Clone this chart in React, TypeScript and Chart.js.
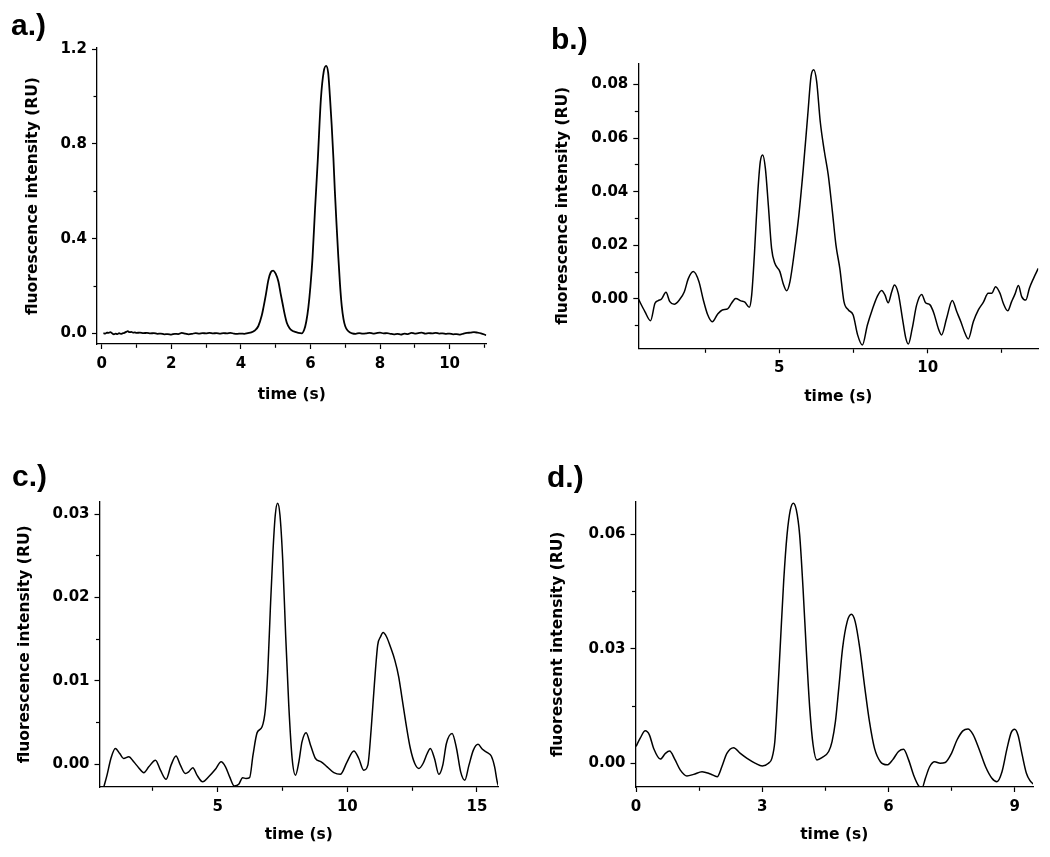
import React, { useEffect, useRef } from 'react';
import { Chart, registerables } from 'chart.js';

Chart.register(...registerables);

// ---------- Panel a ----------
const aTime = [
  0.05, 0.1, 0.15, 0.2, 0.25, 0.3, 0.35, 0.4, 0.45, 0.5,
  0.55, 0.6, 0.65, 0.7, 0.75, 0.8, 0.85, 0.9, 0.95, 1.0,
  1.1, 1.2, 1.3, 1.4, 1.5, 1.6, 1.7, 1.8, 1.9, 2.0,
  2.1, 2.2, 2.3, 2.4, 2.5, 2.6, 2.7, 2.8, 2.9, 3.0,
  3.1, 3.2, 3.3, 3.4, 3.5, 3.6, 3.7, 3.8, 3.9, 4.0,
  4.1, 4.2, 4.3, 4.4, 4.5, 4.6, 4.65, 4.72, 4.79, 4.86,
  4.93, 5.0, 5.08, 5.14, 5.2, 5.26, 5.32, 5.4, 5.48, 5.56,
  5.65, 5.75, 5.82, 5.88, 5.94, 6.0, 6.06, 6.13, 6.21, 6.3,
  6.38, 6.45, 6.51, 6.56, 6.61, 6.66, 6.7, 6.75, 6.8, 6.85,
  6.9, 6.95, 7.0, 7.07, 7.14, 7.2, 7.3, 7.4, 7.5, 7.6,
  7.7, 7.8, 7.9, 8.0, 8.1, 8.2, 8.3, 8.4, 8.5, 8.6,
  8.7, 8.8, 8.9, 9.0, 9.1, 9.2, 9.3, 9.4, 9.5, 9.6,
  9.7, 9.8, 9.9, 10.0, 10.1, 10.2, 10.3, 10.4, 10.5, 10.6,
  10.7, 10.8, 10.9, 11.0, 11.05,
];
const aIntensity = [
  0.001, -0.001, 0.003, 0.002, 0.005, 0.0, -0.004, -0.001, -0.003, 0.001,
  -0.002, 0.0, 0.002, 0.006, 0.009, 0.005, 0.006, 0.003, 0.004, 0.002,
  0.003, 0.001, 0.002, 0.0, 0.001, -0.002, -0.001, -0.004, -0.003, -0.005,
  -0.002, -0.003, 0.002, -0.001, -0.004, -0.002, 0.001, -0.001, 0.001, 0.0,
  0.002, 0.0, 0.001, -0.001, 0.001, 0.0, 0.002, -0.001, -0.002, -0.001,
  -0.002, 0.001, 0.004, 0.012, 0.03, 0.075, 0.11, 0.165, 0.225, 0.258,
  0.265, 0.252, 0.218, 0.17, 0.125, 0.08, 0.045, 0.022, 0.011, 0.006,
  0.002, 0.0, 0.015, 0.05, 0.11, 0.2, 0.32, 0.52, 0.73, 0.99,
  1.105, 1.13, 1.1, 1.0, 0.88, 0.74, 0.605, 0.46, 0.325, 0.205,
  0.115, 0.06, 0.03, 0.012, 0.004, 0.0, -0.002, 0.001, -0.001, 0.0,
  0.002, -0.001, 0.001, 0.003, 0.0, 0.001, -0.002, -0.004, -0.002, -0.005,
  -0.001, -0.003, 0.002, -0.001, 0.001, 0.003, -0.001, 0.001, 0.0, 0.002,
  -0.001, 0.0, -0.002, -0.001, -0.004, -0.003, -0.005, -0.001, 0.002, 0.003,
  0.005, 0.003, 0.0, -0.005, -0.008,
];

// ---------- Panel b ----------
const bTime = [
  0.25, 0.47, 0.66, 0.81, 0.92, 1.03, 1.18, 1.31, 1.46, 1.63,
  1.8, 1.93, 2.1, 2.29, 2.44, 2.58, 2.74, 2.92, 3.08, 3.26,
  3.39, 3.53, 3.71, 3.84, 3.99, 4.07, 4.16, 4.27, 4.36, 4.44,
  4.53, 4.63, 4.74, 4.85, 5.02, 5.13, 5.25, 5.36, 5.51, 5.66,
  5.81, 5.96, 6.07, 6.16, 6.26, 6.38, 6.52, 6.65, 6.79, 6.91,
  7.04, 7.18, 7.33, 7.49, 7.64, 7.8, 7.97, 8.13, 8.3, 8.45,
  8.56, 8.67, 8.79, 8.88, 9.01, 9.15, 9.26, 9.35, 9.48, 9.63,
  9.8, 9.93, 10.08, 10.21, 10.36, 10.47, 10.64, 10.83, 10.98, 11.12,
  11.26, 11.37, 11.54, 11.71, 11.88, 12.04, 12.16, 12.29, 12.44, 12.55,
  12.7, 12.83, 12.94, 13.06, 13.17, 13.31, 13.43, 13.57, 13.73,
];
const bIntensity = [
  0.0, -0.0047, -0.0081, -0.0016, -0.0006, 0.0, 0.0025, -0.001, -0.002, -0.0004,
  0.0027, 0.0075, 0.0102, 0.0065, -0.0004, -0.0057, -0.0085, -0.0057, -0.0041, -0.0037,
  -0.0016, 0.0002, -0.0007, -0.0012, -0.0031, 0.0015, 0.0164, 0.0388, 0.0512, 0.0537,
  0.0488, 0.0351, 0.0189, 0.0133, 0.0102, 0.0058, 0.0031, 0.0065, 0.0177, 0.0313,
  0.0488, 0.0687, 0.083, 0.0855, 0.0811, 0.0662, 0.055, 0.0463, 0.0326, 0.0201,
  0.0114, -0.001, -0.0041, -0.006, -0.0134, -0.0172, -0.0097, -0.0041, 0.0009, 0.0032,
  0.0015, -0.0014, 0.0027, 0.0052, 0.0021, -0.0072, -0.0144, -0.0168, -0.011, -0.0022,
  0.0017, -0.0014, -0.0022, -0.0053, -0.011, -0.0134, -0.0072, -0.0006, -0.0047, -0.0085,
  -0.0128, -0.0149, -0.0085, -0.0041, -0.0012, 0.0021, 0.0021, 0.0046, 0.0021, -0.0016,
  -0.0044, -0.001, 0.0017, 0.005, 0.0009, -0.0004, 0.004, 0.0077, 0.0114,
];

// ---------- Panel c ----------
const cTime = [
  0.6, 0.73, 0.88, 1.05, 1.22, 1.37, 1.57, 1.76, 1.95, 2.15,
  2.34, 2.6, 2.79, 3.01, 3.2, 3.39, 3.56, 3.75, 3.88, 4.04,
  4.2, 4.42, 4.65, 4.91, 5.13, 5.3, 5.46, 5.64, 5.81, 5.96,
  6.09, 6.23, 6.36, 6.52, 6.71, 6.84, 6.93, 7.03, 7.13, 7.22,
  7.31, 7.4, 7.51, 7.62, 7.74, 7.87, 8.0, 8.13, 8.25, 8.41,
  8.58, 8.77, 8.99, 9.22, 9.48, 9.73, 9.99, 10.25, 10.44, 10.63,
  10.79, 10.92, 11.04, 11.17, 11.28, 11.38, 11.51, 11.66, 11.83, 11.98,
  12.11, 12.27, 12.43, 12.6, 12.76, 12.92, 13.08, 13.2, 13.36, 13.53,
  13.68, 13.82, 14.04, 14.21, 14.37, 14.53, 14.69, 14.86, 15.04, 15.21,
  15.4, 15.55, 15.68, 15.78, 15.84,
];
const cIntensity = [
  -0.0028, -0.0013, 0.0007, 0.0019, 0.0013, 0.0007, 0.0009, 0.0003, -0.0004, -0.001,
  -0.0003, 0.0005, -0.0007, -0.0018, -0.0001, 0.001, -0.0001, -0.0011, -0.0009, -0.0004,
  -0.0013, -0.0021, -0.0015, -0.0006, 0.0003, -0.0003, -0.0015, -0.0026, -0.0024, -0.0016,
  -0.0017, -0.0016, 0.0011, 0.0038, 0.0045, 0.0067, 0.0111, 0.0187, 0.0255, 0.0299,
  0.0313, 0.0299, 0.0243, 0.0155, 0.0071, 0.0007, -0.0013, 0.0003, 0.0027, 0.0038,
  0.0023, 0.0007, 0.0003, -0.0003, -0.001, -0.0012, 0.0003, 0.0016, 0.0007, -0.0007,
  -0.0001, 0.0043, 0.0095, 0.0143, 0.0153, 0.0158, 0.0153, 0.0141, 0.0125, 0.0105,
  0.0079, 0.0047, 0.0019, 0.0001, -0.0005, 0.0001, 0.0013, 0.0019, 0.0007, -0.0012,
  -0.0001, 0.0025, 0.0037, 0.0019, -0.0009, -0.0019, -0.0001, 0.0017, 0.0024, 0.0018,
  0.0014, 0.001, -0.0003, -0.0021, -0.0027,
];

// ---------- Panel d ----------
const dTime = [
  0.0, 0.1, 0.22, 0.32, 0.42, 0.58, 0.7, 0.8, 0.92, 1.05,
  1.21, 1.37, 1.57, 1.77, 1.93, 2.04, 2.16, 2.32, 2.48, 2.64,
  2.84, 3.0, 3.15, 3.23, 3.3, 3.35, 3.43, 3.51, 3.59, 3.67,
  3.74, 3.81, 3.89, 3.97, 4.05, 4.13, 4.21, 4.3, 4.42, 4.58,
  4.66, 4.74, 4.82, 4.91, 5.02, 5.12, 5.21, 5.32, 5.44, 5.55,
  5.67, 5.81, 5.97, 6.1, 6.24, 6.36, 6.48, 6.6, 6.72, 6.8,
  6.88, 6.98, 7.1, 7.23, 7.35, 7.5, 7.63, 7.77, 7.89, 8.01,
  8.15, 8.31, 8.46, 8.58, 8.7, 8.82, 8.92, 9.0, 9.08, 9.18,
  9.28, 9.37, 9.45,
];
const dIntensity = [
  0.0044, 0.0066, 0.0085, 0.0074, 0.0039, 0.0011, 0.0026, 0.0032, 0.0011, -0.0017,
  -0.0033, -0.0029, -0.0022, -0.0028, -0.0035, -0.0009, 0.0026, 0.0041, 0.0026, 0.0013,
  0.0, -0.0007, 0.0, 0.0013, 0.0057, 0.0144, 0.031, 0.0476, 0.0598, 0.0664,
  0.0681, 0.0664, 0.0598, 0.0459, 0.0293, 0.0144, 0.0048, 0.0009, 0.0015, 0.0031,
  0.0057, 0.0109, 0.0197, 0.0301, 0.0371, 0.039, 0.0371, 0.0301, 0.0197, 0.0109,
  0.0039, 0.0004, -0.0004, 0.0009, 0.0031, 0.0037, 0.0009, -0.0031, -0.0059, -0.0064,
  -0.0039, -0.0009, 0.0004, 0.0, 0.0002, 0.0026, 0.0061, 0.0085, 0.009, 0.0076,
  0.0039, -0.0009, -0.0039, -0.0048, -0.0022, 0.0039, 0.0081, 0.0089, 0.0074, 0.0022,
  -0.0026, -0.0046, -0.0055,
];

const FONT = '"DejaVu Sans", "Liberation Sans", sans-serif';

type Spec = {
  time: number[];
  intensity: number[];
  xMin: number; xMax: number; xStep: number; xMajor: number; xDigits: number;
  yMin: number; yMax: number; yStep: number; yMajor: number; yDigits: number;
  yTitle: string;
  padding: { left: number; top: number; right: number; bottom: number };
  yWidth: number;
  xHeight: number;
  lineWidth: number;
};

function isMajor(v: number, major: number) {
  const r = v / major;
  return Math.abs(r - Math.round(r)) < 1e-6;
}

function fmt(v: number, digits: number) {
  const s = v.toFixed(digits);
  return s.startsWith('-') && Number(s) === 0 ? s.slice(1) : s;
}

function buildConfig(p: Spec): any {
  const tickFont = { family: FONT, size: 15, weight: 'bold' as const };
  const titleFont = { family: FONT, size: 15.5, weight: 'bold' as const };
  return {
    type: 'line',
    data: {
      datasets: [
        {
          data: p.time.map((t, i) => ({ x: t, y: p.intensity[i] })),
          borderColor: '#000',
          borderWidth: p.lineWidth,
          pointRadius: 0,
          cubicInterpolationMode: 'monotone',
          fill: false,
        },
      ],
    },
    options: {
      animation: false,
      responsive: false,
      devicePixelRatio: 1,
      events: [],
      layout: { padding: p.padding },
      plugins: { legend: { display: false }, tooltip: { enabled: false }, title: { display: false } },
      scales: {
        x: {
          type: 'linear',
          position: 'bottom',
          min: p.xMin,
          max: p.xMax,
          grid: {
            drawOnChartArea: false,
            drawTicks: true,
            tickLength: 5,
            tickColor: '#000',
            tickWidth: 1.2,
            tickBorderDash: (ctx: any) => (isMajor(ctx.tick.value, p.xMajor) ? [] : [3.5, 10]),
          },
          border: { display: true, color: '#000', width: 1.3 },
          ticks: {
            stepSize: p.xStep,
            autoSkip: false,
            includeBounds: false,
            maxRotation: 0,
            padding: 6,
            color: '#000',
            font: tickFont,
            callback: (v: number) => (isMajor(v, p.xMajor) ? fmt(v, p.xDigits) : ''),
          },
          title: { display: true, text: 'time (s)', color: '#000', font: titleFont, padding: 0 },
          afterFit: (s: any) => {
            s.height = p.xHeight;
          },
        },
        y: {
          type: 'linear',
          position: 'left',
          min: p.yMin,
          max: p.yMax,
          grid: {
            drawOnChartArea: false,
            drawTicks: true,
            tickLength: 5,
            tickColor: '#000',
            tickWidth: 1.2,
            tickBorderDash: (ctx: any) => (isMajor(ctx.tick.value, p.yMajor) ? [] : [3.5, 1.5]),
            tickBorderDashOffset: (ctx: any) => (isMajor(ctx.tick.value, p.yMajor) ? 0 : 3.5),
          },
          border: { display: true, color: '#000', width: 1.3 },
          ticks: {
            stepSize: p.yStep,
            autoSkip: false,
            includeBounds: false,
            padding: 5,
            color: '#000',
            font: tickFont,
            callback: (v: number) => (isMajor(v, p.yMajor) ? fmt(v, p.yDigits) : ''),
          },
          title: { display: true, text: p.yTitle, color: '#000', font: titleFont, padding: 0 },
          afterFit: (s: any) => {
            s.width = p.yWidth;
          },
        },
      },
    },
  };
}

const specA: Spec = {
  time: aTime, intensity: aIntensity,
  xMin: -0.135, xMax: 11.06, xStep: 1, xMajor: 2, xDigits: 0,
  yMin: -0.045, yMax: 1.2055, yStep: 0.2, yMajor: 0.4, yDigits: 1,
  yTitle: 'fluorescence intensity (RU)',
  padding: { left: 23.7, top: 48, right: 38.5, bottom: 15.7 },
  yWidth: 73.3, xHeight: 60.3, lineWidth: 1.8,
};
const specB: Spec = {
  time: bTime, intensity: bIntensity,
  xMin: 0.248, xMax: 13.73, xStep: 2.5, xMajor: 5, xDigits: 0,
  yMin: -0.0184, yMax: 0.0879, yStep: 0.01, yMajor: 0.02, yDigits: 2,
  yTitle: 'fluorescence intensity (RU)',
  padding: { left: 28.7, top: 63.3, right: 11.7, bottom: 13.7 },
  yWidth: 84.6, xHeight: 58, lineWidth: 1.5,
};
const specC: Spec = {
  time: cTime, intensity: cIntensity,
  xMin: 0.44, xMax: 15.81, xStep: 2.5, xMajor: 5, xDigits: 0,
  yMin: -0.00272, yMax: 0.0315, yStep: 0.005, yMajor: 0.01, yDigits: 2,
  yTitle: 'fluorescence intensity (RU)',
  padding: { left: 15.7, top: 73.7, right: 27, bottom: 12.7 },
  yWidth: 83.8, xHeight: 57.3, lineWidth: 1.5,
};
const specD: Spec = {
  time: dTime, intensity: dIntensity,
  xMin: -0.012, xMax: 9.437, xStep: 1.5, xMajor: 3, xDigits: 0,
  yMin: -0.0062, yMax: 0.0685, yStep: 0.015, yMajor: 0.03, yDigits: 2,
  yTitle: 'fluorescent intensity (RU)',
  padding: { left: 23.7, top: 73.7, right: 17, bottom: 12.7 },
  yWidth: 86.8, xHeight: 57.3, lineWidth: 1.5,
};

function Panel({ spec, left, top, width, height }: { spec: Spec; left: number; top: number; width: number; height: number }) {
  const ref = useRef<HTMLCanvasElement>(null);
  useEffect(() => {
    const chart = new Chart(ref.current as HTMLCanvasElement, buildConfig(spec));
    return () => chart.destroy();
  }, [spec]);
  return (
    <canvas
      ref={ref}
      width={width}
      height={height}
      style={{ position: 'absolute', left, top, width, height, display: 'block' }}
    />
  );
}

const labelStyle: React.CSSProperties = {
  position: 'absolute',
  fontFamily: '"Liberation Sans", Arial, sans-serif',
  fontWeight: 'bold',
  fontSize: 30,
  lineHeight: '30px',
  color: '#000',
  whiteSpace: 'nowrap',
};

export default function App() {
  return (
    <div style={{ position: 'absolute', left: 0, top: 0, width: 1050, height: 857, background: '#fff', overflow: 'hidden' }}>
      <Panel spec={specA} left={0} top={0} width={525} height={420} />
      <Panel spec={specB} left={525} top={0} width={525} height={420} />
      <Panel spec={specC} left={0} top={428} width={525} height={429} />
      <Panel spec={specD} left={525} top={428} width={525} height={429} />
      <div style={{ ...labelStyle, left: 11, top: 10 }}>a.)</div>
      <div style={{ ...labelStyle, left: 551, top: 24 }}>b.)</div>
      <div style={{ ...labelStyle, left: 12, top: 461 }}>c.)</div>
      <div style={{ ...labelStyle, left: 547, top: 462 }}>d.)</div>
    </div>
  );
}
